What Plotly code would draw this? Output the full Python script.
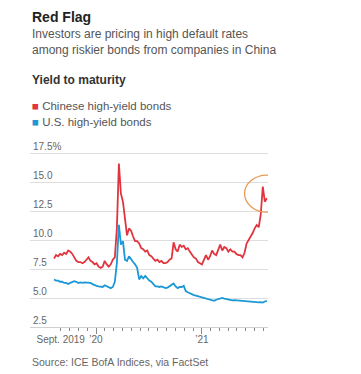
import pandas as pd
import plotly.graph_objects as go

# Weekly observations (Fridays), Aug 2019 - Aug 2021
dates = pd.date_range("2019-08-09", periods=106, freq="7D")

china_hy = [8.4, 8.7, 8.6, 8.8, 8.7, 8.9, 8.8, 9.1, 9.0, 8.8,
            8.5, 8.2, 8.1, 8.1, 8.0, 8.1, 8.3, 8.5, 8.2, 8.1,
            7.9, 8.0, 7.7, 7.6, 7.7, 8.2, 7.9, 7.7, 7.9, 8.3,
            8.5, 11.0, 16.6, 14.0, 13.3, 11.8, 10.4, 11.0, 10.8, 10.3,
            9.9, 9.9, 9.7, 9.3, 9.2, 9.0, 9.1, 8.7, 8.6, 8.4,
            8.2, 8.3, 8.1, 8.2, 8.0, 8.0, 8.1, 8.3, 8.4, 9.8,
            9.2, 9.0, 9.6, 9.4, 9.5, 9.2, 9.3, 9.0, 8.7, 8.5,
            8.4, 8.1, 8.0, 7.9, 8.3, 8.7, 8.3, 8.6, 9.1, 8.8,
            8.7, 9.2, 9.6, 9.1, 9.4, 9.3, 9.0, 9.2, 9.0, 9.0,
            8.8, 8.7, 8.7, 8.5, 8.9, 9.7, 10.0, 10.2, 10.6, 11.0,
            11.3, 11.1, 12.2, 14.6, 13.3, 13.6]

us_hy = [6.6, 6.5, 6.5, 6.4, 6.4, 6.3, 6.3, 6.2, 6.3, 6.4,
         6.45, 6.4, 6.3, 6.35, 6.3, 6.35, 6.35, 6.3, 6.3, 6.2,
         6.1, 6.05, 6.0, 6.0, 5.95, 6.1, 6.0, 5.9, 5.85, 5.95,
         6.4, 8.0, 11.3, 9.6, 9.9, 8.3, 8.2, 8.6, 8.3, 8.1,
         7.9, 7.6, 6.6, 6.9, 6.7, 6.9, 6.7, 6.5, 6.4, 6.2,
         6.0, 6.0, 5.95, 6.0, 5.9, 5.85, 5.9, 6.0, 6.1, 6.25,
         6.0, 5.85, 5.95, 5.95, 6.05, 5.6, 5.5, 5.4, 5.3, 5.25,
         5.2, 5.15, 5.1, 5.1, 5.0, 5.0, 4.95, 4.85, 4.8, 4.75,
         4.85, 4.9, 4.95, 5.0, 4.95, 4.9, 4.85, 4.8, 4.8, 4.82,
         4.8, 4.82, 4.8, 4.78, 4.75, 4.72, 4.7, 4.68, 4.62, 4.6,
         4.6, 4.62, 4.65, 4.6, 4.7, 4.75]

y_ticks = [2.5, 5.0, 7.5, 10.0, 12.5, 15.0, 17.5]
y_tick_text = ["2.5", "5.0", "7.5", "10.0", "12.5", "15.0", "17.5%"]
month_ticks = pd.date_range("2019-09-01", "2021-08-01", freq="MS")
tick_labels = {"2019-09": "Sept. 2019", "2020-01": "\u201920", "2021-01": "\u201921"}
month_tick_text = [tick_labels.get(d.strftime("%Y-%m"), "") for d in month_ticks]
year_ticks = ["2020-01-01", "2021-01-01"]

RED = "#e0353f"
BLUE = "#1b98d5"
FONT = "Liberation Sans, Arial, sans-serif"

fig = go.Figure()
fig.add_trace(go.Scatter(x=dates, y=china_hy, mode="lines",
                         line=dict(color=RED, width=1.8), hoverinfo="skip"))
fig.add_trace(go.Scatter(x=dates, y=us_hy, mode="lines",
                         line=dict(color=BLUE, width=1.8), hoverinfo="skip"))
# invisible helper so the overlay axes (year ticks, value labels) get drawn
fig.add_trace(go.Scatter(x=dates, y=us_hy, mode="lines", xaxis="x2", yaxis="y2",
                         line=dict(color="rgba(0,0,0,0)", width=0), hoverinfo="skip"))

x_range = ["2019-05-18", "2021-08-17"]
PX_PER_UNIT = 174 / 15.0
y_range = [2.5, 17.5 + 14 / PX_PER_UNIT]

# page body has an 8px margin, so the figure is drawn 8px smaller
fig.update_layout(
    width=353, height=366,
    margin=dict(l=22, r=93, t=131, b=47),
    paper_bgcolor="white", plot_bgcolor="white",
    showlegend=False,
    font=dict(family=FONT, color="#666666", size=10),
    xaxis=dict(range=x_range, type="date", showgrid=False, zeroline=False,
               tickvals=month_ticks, ticktext=month_tick_text,
               ticks="outside", ticklen=3, tickcolor="#888888", tickwidth=1,
               showline=True, linecolor="#d0d0d0", linewidth=1,
               tickfont=dict(size=10, color="#666666")),
    xaxis2=dict(range=x_range, type="date", overlaying="x", anchor="y2",
                side="bottom", showgrid=False, zeroline=False,
                tickvals=year_ticks, showticklabels=False,
                ticks="outside", ticklen=6, tickcolor="#888888", tickwidth=1),
    yaxis=dict(range=y_range, tickvals=y_ticks, showticklabels=False,
               showgrid=True, gridcolor="#dedede", gridwidth=1,
               zeroline=False, ticks=""),
    yaxis2=dict(range=y_range, overlaying="y", anchor="x2", side="left",
                tickvals=y_ticks, ticktext=y_tick_text,
                showgrid=False, zeroline=False, ticks="",
                ticklabelposition="inside top",
                tickfont=dict(size=10, color="#666666")),
)

fig.add_shape(type="circle", xref="x", yref="y",
              x0="2021-05-28", x1="2021-10-29", y0=12.4, y1=15.6,
              line=dict(color="#e89a55", width=1.3))

plot_top = 131
plot_h = 366 - 131 - 47
ann = [
    dict(text="<b>Red Flag</b>", y=17, size=14, color="#222222"),
    dict(text="Investors are pricing in high default rates", y=34, size=12, color="#555555"),
    dict(text="among riskier bonds from companies in China", y=50, size=12, color="#555555"),
    dict(text="<b>Yield to maturity</b>", y=80, size=12, color="#333333"),
    dict(text=f"<span style='color:{RED}'>\u25a0</span> Chinese high-yield bonds", y=106, size=11.5, color="#555555"),
    dict(text=f"<span style='color:{BLUE}'>\u25a0</span> U.S. high-yield bonds", y=122, size=11.5, color="#555555"),
    dict(text="Source: ICE BofA Indices, via FactSet", y=362, size=10.5, color="#666666"),
]
for a in ann:
    yy = a["y"] - 8
    fig.add_annotation(text=a["text"], xref="paper", yref="paper",
                       x=0, y=1 - (yy - plot_top) / plot_h,
                       xanchor="left", yanchor="middle", showarrow=False,
                       font=dict(family=FONT, size=a["size"], color=a["color"]))

fig.write_html("out.html")
